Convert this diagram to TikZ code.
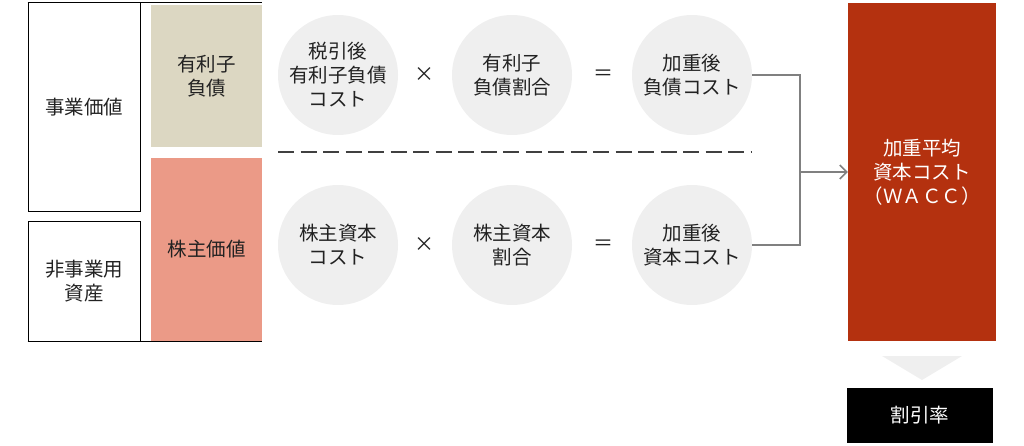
\documentclass[tikz,border=0pt]{standalone}
\usepackage{fontspec}
\setmainfont{Noto Sans CJK JP}
\usepackage{xcolor}
\usepackage{tikz}
\usetikzlibrary{arrows.meta,positioning}
\definecolor{debtcol}{HTML}{DCD7C2}
\definecolor{equitycol}{HTML}{EB9A87}
\definecolor{circcol}{HTML}{EFEFEF}
\definecolor{wacccol}{HTML}{B4310F}
\definecolor{conncol}{HTML}{808080}
\definecolor{dashcol}{HTML}{404040}
\definecolor{textcol}{HTML}{222222}
\tikzset{
	valbox/.style={draw,line width=1pt,minimum width=112pt,align=center,inner sep=0pt},
	partbox/.style={minimum width=111pt,align=center,inner sep=0pt},
	costcirc/.style={circle,fill=circcol,minimum size=120pt,align=center,inner sep=0pt},
	opsign/.style={font=\fontsize{20}{20}\selectfont},
	conn/.style={conncol,line width=1.5pt},
}
\begin{document}
\begin{tikzpicture}[x=1pt,y=-1pt,font=\fontsize{19.5}{24}\selectfont,text=textcol]
	\useasboundingbox (0,0) rectangle (1024,446);
	\node[valbox,minimum height=209pt] (jigyo) at (84,107.5) {事業価値};
	\node[valbox,minimum height=119pt] (hijigyo) at (84,281.5) {非事業用\\資産};
	\node[partbox,fill=debtcol,minimum height=142pt] (debt) at (206.5,76) {有利子\\負債};
	\node[partbox,fill=equitycol,minimum height=183pt] (equity) at (206.5,249.5) {株主価値};
	\draw[line width=1pt] (jigyo.north west) -- (jigyo.north west -| debt.east);
	\draw[line width=1pt] (hijigyo.south west) -- (hijigyo.south west -| equity.east);
	\node[costcirc] (kd) at (338,75) {税引後\\有利子負債\\コスト};
	\node[opsign] (times1) at (424,75) {×};
	\node[costcirc] (wdr) at (512,75) {有利子\\負債割合};
	\node[opsign] (eq1) at (603,75) {＝};
	\node[costcirc] (wd) at (692,75) {加重後\\負債コスト};
	\node[costcirc] (ke) at (338,245) {株主資本\\コスト};
	\node[opsign] (times2) at (424,245) {×};
	\node[costcirc] (wer) at (512,245) {株主資本\\割合};
	\node[opsign] (eq2) at (603,245) {＝};
	\node[costcirc] (we) at (692,245) {加重後\\資本コスト};
	\coordinate (dashL) at (278,152);
	\coordinate (dashR) at (752,152);
	\draw[dashcol,line width=2.5pt,dash pattern=on 16pt off 6.5pt] (dashL) -- (dashR);
	\node[fill=wacccol,text=white,minimum width=148pt,minimum height=338pt,align=center,inner sep=0pt] (wacc) at (922,172) {加重平均\\資本コスト\\（ＷＡＣＣ）};
	\coordinate (join) at (800,172);
	\draw[conn] (wd.east) -| (join);
	\draw[conn] (we.east) -| (join);
	\draw[conn,-{Straight Barb[length=7pt,width=14pt]}] (join) -- (wacc.west);
	\fill[circcol] (882,356) -- (962,356) -- (922,380) -- cycle;
	\node[fill=black,text=white,minimum width=146pt,minimum height=55pt,inner sep=0pt] (rate) at (920,415.5) {割引率};
\end{tikzpicture}
\end{document}
